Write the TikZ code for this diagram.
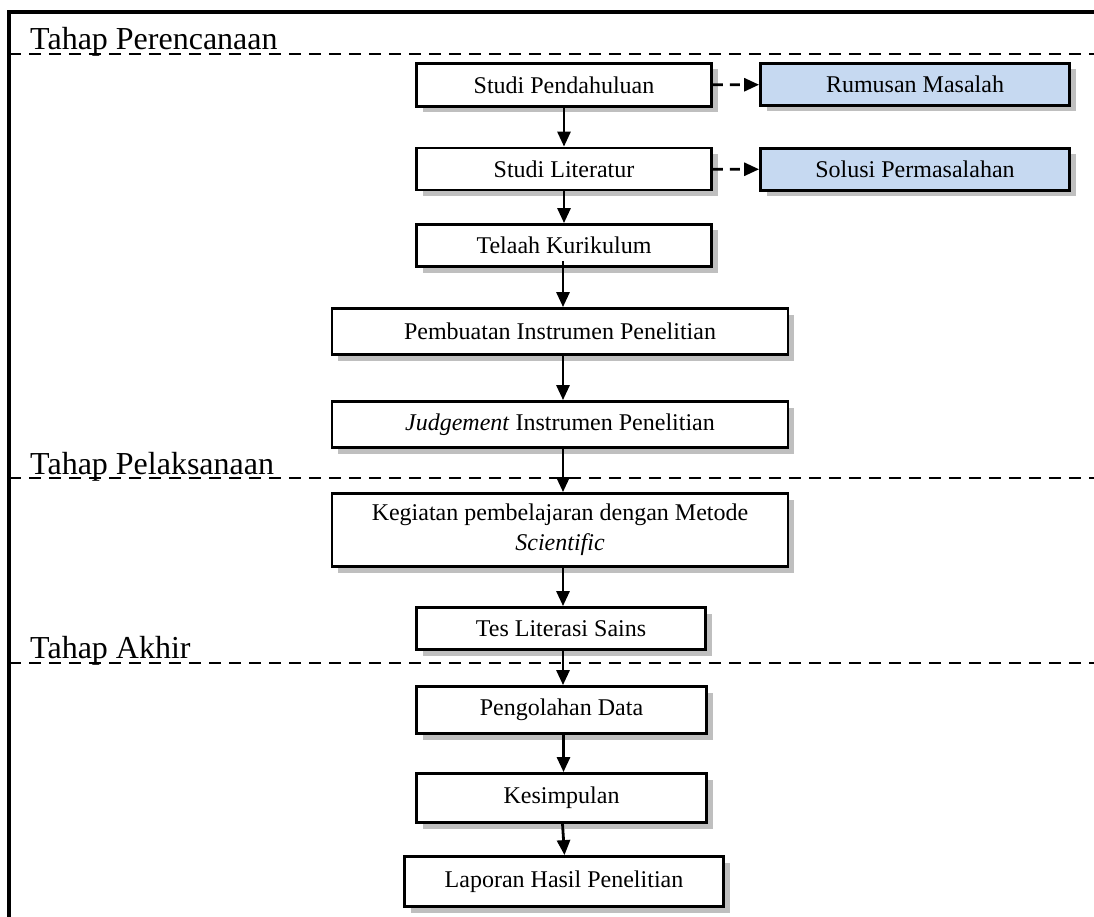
\documentclass[tikz,border=0pt]{standalone}
\usepackage{fontspec}
\setmainfont{Liberation Serif}
\usetikzlibrary{arrows.meta,shadows}
\definecolor{boxblue}{HTML}{C6D9F1}
\begin{document}
\begin{tikzpicture}[x=1pt,y=-1pt,
  box/.style={draw=black, line width=2.8pt, fill=white, inner sep=0pt,
    font=\fontsize{24}{30}\selectfont, align=center,
    drop shadow={shadow xshift=6pt, shadow yshift=-6pt, fill=black!25, opacity=1}},
  bluebox/.style={box, fill=boxblue},
  lab/.style={inner sep=0pt, anchor=base west, font=\fontsize{32}{38}\selectfont},
  arr/.style={line width=2.8pt, -{Triangle[length=15pt,width=13pt]}},
  darr/.style={arr, dash pattern=on 10pt off 7pt},
  sep/.style={line width=2.2pt, dash pattern=on 12pt off 8pt}]
\useasboundingbox (0,0) rectangle (1094,917);
% frame
\draw[line width=3.5pt] (9,920) -- (9,12) -- (1097,12);
% separators
\draw[sep] (9,54) -- (1097,54);
\draw[sep] (9,478) -- (1097,478);
\draw[sep] (9,663) -- (1097,663);
% labels
\node[lab] (l1) at (30,50) {Tahap Perencanaan};
\node[lab] (l2) at (30,474) {Tahap Pelaksanaan};
\node[lab] (l3) at (30,658) {Tahap Akhir};
% boxes
\node[box, minimum width=295pt, minimum height=43pt] (sp) at (564,85) {Studi Pendahuluan};
\node[bluebox, minimum width=309pt, minimum height=42pt] (rm) at (915,84.5) {Rumusan Masalah};
\node[box, minimum width=295pt, minimum height=42pt] (sl) at (564,169) {Studi Literatur};
\node[bluebox, minimum width=309pt, minimum height=42pt] (sm) at (915,169.5) {Solusi Permasalahan};
\node[box, minimum width=295pt, minimum height=42pt] (tk) at (564,245.5) {Telaah Kurikulum};
\node[box, minimum width=456pt, minimum height=46pt] (pi) at (560,331.5) {Pembuatan Instrumen Penelitian};
\node[box, minimum width=456pt, minimum height=46pt] (ji) at (560,424.5) {\textit{Judgement} Instrumen Penelitian};
\node[box, minimum width=456pt, minimum height=73pt] (kg) at (560,530) {Kegiatan pembelajaran dengan Metode\\\textit{Scientific}};
\node[box, minimum width=289pt, minimum height=42pt] (tl) at (561,628.5) {Tes Literasi Sains};
\node[box, minimum width=290pt, minimum height=47pt] (pd) at (561.5,710) {Pengolahan Data};
\node[box, minimum width=290pt, minimum height=49pt] (ks) at (561.5,798) {Kesimpulan};
\node[box, minimum width=319pt, minimum height=50pt] (lh) at (564,881.5) {Laporan Hasil Penelitian};
% connectors
\draw[arr] (sp.south) -- (sp.south |- sl.north);
\draw[arr] (sl.south) -- (sl.south |- tk.north);
\draw[arr] ([xshift=-1pt,yshift=7pt]tk.south) -- ([xshift=-1pt]tk.south |- pi.north);
\draw[arr] ([xshift=3pt]pi.south) -- ([xshift=3pt]pi.south |- ji.north);
\draw[arr] ([xshift=3pt]ji.south) -- ([xshift=3pt]ji.south |- kg.north);
\draw[arr] ([xshift=3pt]kg.south) -- ([xshift=3pt]kg.south |- tl.north);
\draw[arr] ([xshift=2pt]tl.south) -- ([xshift=2pt]tl.south |- pd.north);
\draw[arr] ([xshift=2pt]pd.south) -- ([xshift=2pt]pd.south |- ks.north);
\draw[arr] ([xshift=1pt]ks.south) -- ([xshift=3pt]ks.south |- lh.north);
\draw[darr] (sp) -- (rm);
\draw[darr] (sl) -- (sm);
\end{tikzpicture}
\end{document}
